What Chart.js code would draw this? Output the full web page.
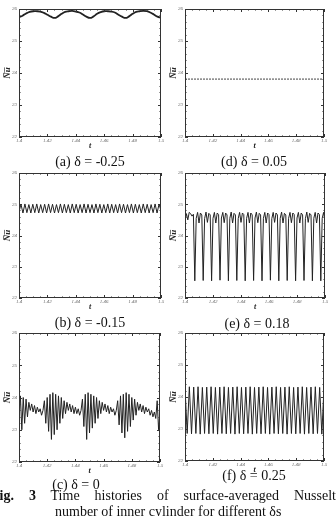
<!DOCTYPE html>
<html>
<head>
<meta charset="utf-8">
<script src="https://cdn.jsdelivr.net/npm/chart.js@4/dist/chart.umd.min.js"></script>
<style>
  body { margin: 0; width: 336px; height: 516px; overflow: hidden; background: #fff; position: relative; font-family: "Liberation Serif", serif; color: #111; }
  .panel { position: absolute; }
  .cap { position: absolute; font-size: 14px; line-height: 16px; white-space: nowrap; transform: translateX(-50%); }
  .fig { position: absolute; font-size: 14px; line-height: 16px; white-space: nowrap; }
  .fig1 { left: -9px; width: 345px; text-align: justify; text-align-last: justify; }
</style>
</head>
<body>
<div class="panel" style="left:0;top:3px"><canvas id="pa" width="167" height="151"></canvas></div>
<div class="panel" style="left:166px;top:3px"><canvas id="pd" width="164" height="151"></canvas></div>
<div class="panel" style="left:0;top:167px"><canvas id="pb" width="167" height="148"></canvas></div>
<div class="panel" style="left:166px;top:167px"><canvas id="pe" width="165" height="148"></canvas></div>
<div class="panel" style="left:0;top:327px"><canvas id="pc" width="166" height="152"></canvas></div>
<div class="panel" style="left:166px;top:327px"><canvas id="pf" width="164" height="151"></canvas></div>

<div class="cap" style="left:90px;top:154px">(a) δ = -0.25</div>
<div class="cap" style="left:254px;top:154px">(d) δ = 0.05</div>
<div class="cap" style="left:90px;top:315px">(b) δ = -0.15</div>
<div class="cap" style="left:257px;top:316px">(e) δ = 0.18</div>
<div class="cap" style="left:76px;top:477px">(c) δ = 0</div>
<div class="cap" style="left:254px;top:468px">(f) δ = 0.25</div>
<div class="fig fig1" style="top:488px"><b>Fig.</b> <b>3</b> Time histories of surface-averaged Nusselt</div>
<div class="fig" style="left:55px;top:504px">number of inner cylinder for different δs</div>

<script>
// time window and axis ticks shared by all six panels
const tMin = 1.4, tMax = 1.5;
const xTicks = [1.4, 1.42, 1.44, 1.46, 1.48, 1.5];
const yTicks = [22, 23, 24, 25, 26];

// (a) delta = -0.25
const nuA = [
  25.74, 25.79, 25.86, 25.91, 25.93, 25.93, 25.92, 25.88, 25.82, 25.76,
  25.72, 25.77, 25.85, 25.91, 25.93, 25.94, 25.92, 25.89, 25.83, 25.76,
  25.72, 25.77, 25.85, 25.90, 25.93, 25.93, 25.92, 25.89, 25.82, 25.76,
  25.72, 25.77, 25.85, 25.91, 25.93, 25.94, 25.93, 25.89, 25.83, 25.76,
  25.73
];

// (b) delta = -0.15
const nuB = [
  24.76, 25.00, 24.72, 25.01, 24.73, 24.99, 24.72, 25.00, 24.73, 25.01,
  24.72, 24.99, 24.73, 25.00, 24.72, 25.01, 24.73, 25.00, 24.72, 24.99,
  24.73, 25.01, 24.72, 25.00, 24.73, 24.99, 24.72, 25.01, 24.73, 25.00,
  24.72, 24.99, 24.73, 25.01, 24.72, 25.00, 24.73, 24.99, 24.72, 25.01,
  24.73, 25.00, 24.72, 24.99, 24.73, 25.01, 24.72, 25.00, 24.73, 24.99,
  24.72, 25.01, 24.73, 25.00, 24.72, 24.99, 24.73, 25.01, 24.72, 25.00,
  24.73, 24.99, 24.72, 25.01, 24.73, 25.00, 24.72, 24.99, 24.73, 25.01,
  24.72, 25.00, 24.80
];

// (c) delta = 0
const nuC = [
  23.30, 24.05, 23.00, 24.00, 23.20, 23.95, 23.40, 23.85,
  23.60, 23.80, 23.55, 23.75, 23.50, 23.70, 23.55, 23.65, 23.45, 23.60,
  23.90, 23.20, 24.00, 22.95, 24.10, 22.70, 24.15, 22.85, 24.10, 23.00,
  24.05, 23.20, 24.00, 23.35, 23.90, 23.50, 23.85,
  23.60, 23.80, 23.55, 23.75, 23.50, 23.70, 23.50, 23.65, 23.45, 23.60,
  23.95, 23.10, 24.10, 22.70, 24.15, 22.90, 24.10, 23.05, 24.05, 23.20,
  24.00, 23.35, 23.90, 23.50, 23.85,
  23.60, 23.80, 23.55, 23.75, 23.50, 23.70, 23.55, 23.65, 23.45, 23.60,
  23.90, 23.15, 24.05, 22.90, 24.10, 22.75, 24.15, 22.95, 24.10, 23.10,
  24.00, 23.30, 23.95, 23.45, 23.85,
  23.60, 23.80, 23.55, 23.75, 23.50, 23.70, 23.55, 23.65, 23.45, 23.60,
  23.40, 23.55, 23.35, 23.90, 23.00, 23.60
];

// (d) delta = 0.05 (steady)
const nuD = [23.81, 23.81];

// (e) delta = 0.18
const nuE = [
  24.45, 24.70, 24.50, 24.74, 24.70, 24.62, 24.68,
  22.55, 24.55, 24.74, 24.40, 24.72, 24.66,
  22.56, 24.54, 24.75, 24.42, 24.71, 24.66,
  22.55, 24.55, 24.74, 24.40, 24.72, 24.67,
  22.57, 24.56, 24.74, 24.41, 24.72, 24.66,
  22.55, 24.55, 24.75, 24.40, 24.71, 24.66,
  22.56, 24.54, 24.74, 24.42, 24.72, 24.67,
  22.55, 24.55, 24.74, 24.40, 24.72, 24.66,
  22.56, 24.56, 24.75, 24.41, 24.71, 24.66,
  22.55, 24.55, 24.74, 24.40, 24.72, 24.67,
  22.57, 24.54, 24.74, 24.42, 24.72, 24.66,
  22.55, 24.55, 24.75, 24.40, 24.71, 24.66,
  22.56, 24.55, 24.74, 24.41, 24.72, 24.67,
  22.55, 24.56, 24.74, 24.40, 24.72, 24.66,
  22.56, 24.54, 24.75, 24.42, 24.71, 24.66,
  22.55, 24.55, 24.74, 24.40, 24.72, 24.67,
  22.55, 24.55, 24.74, 24.45
];

// (f) delta = 0.25
const nuF = [
  24.30, 22.86, 24.32, 22.85, 24.31, 22.86, 24.32, 22.84, 24.30, 22.86,
  24.31, 22.85, 24.32, 22.86, 24.30, 22.84, 24.31, 22.86, 24.32, 22.85,
  24.30, 22.86, 24.31, 22.84, 24.32, 22.86, 24.30, 22.85, 24.31, 22.86,
  24.32, 22.84, 24.30, 22.86, 24.31, 22.85, 24.32, 22.86, 24.30, 22.84,
  24.31, 22.86, 24.32, 22.85, 24.30, 22.86, 24.31, 22.84, 24.32, 22.86,
  24.30, 22.85, 24.31, 22.86, 24.32, 22.84, 24.30, 22.86, 24.31, 22.85,
  24.32, 22.86, 24.30, 22.84, 24.31
];

// samples are evenly spaced over the shown time window
function sampleTimes(n) {
  return Array.from({ length: n }, (_, i) => tMin + (tMax - tMin) * i / (n - 1));
}

const serif = "Liberation Serif";

// boxed frame with inward major/minor ticks on all four sides
const frameTicks = {
  id: "frameTicks",
  afterDatasetsDraw(chart) {
    const { ctx, chartArea: a, scales: { x, y } } = chart;
    ctx.save();
    ctx.strokeStyle = "#333";
    ctx.lineWidth = 1;
    ctx.strokeRect(a.left + 0.5, a.top + 0.5, a.right - a.left - 1, a.bottom - a.top - 1);
    ctx.beginPath();
    const xMark = (v, len) => {
      const px = Math.round(x.getPixelForValue(v)) + 0.5;
      ctx.moveTo(px, a.bottom); ctx.lineTo(px, a.bottom - len);
      ctx.moveTo(px, a.top); ctx.lineTo(px, a.top + len);
    };
    const yMark = (v, len) => {
      const py = Math.round(y.getPixelForValue(v)) + 0.5;
      ctx.moveTo(a.left, py); ctx.lineTo(a.left + len, py);
      ctx.moveTo(a.right, py); ctx.lineTo(a.right - len, py);
    };
    xTicks.forEach((v, i) => {
      xMark(v, 3);
      if (i < xTicks.length - 1) {
        const step = (xTicks[i + 1] - v) / 4;
        for (let k = 1; k < 4; k++) xMark(v + k * step, 1.5);
      }
    });
    yTicks.forEach((v, i) => {
      yMark(v, 3);
      if (i < yTicks.length - 1) {
        const step = (yTicks[i + 1] - v) / 5;
        for (let k = 1; k < 5; k++) yMark(v + k * step, 1.5);
      }
    });
    ctx.stroke();
    ctx.restore();
  }
};

function makePanel(id, nu, line) {
  const t = sampleTimes(nu.length);
  new Chart(document.getElementById(id), {
    type: "line",
    data: {
      datasets: [{
        data: nu.map((v, i) => ({ x: t[i], y: v })),
        borderColor: line.color || "#222",
        borderWidth: line.width || 1,
        borderDash: line.dash || [],
        tension: line.tension || 0,
        pointRadius: 0,
        fill: false
      }]
    },
    options: {
      responsive: false,
      animation: false,
      events: [],
      layout: { padding: { top: 6, right: 6, left: 0, bottom: 3 } },
      plugins: { legend: { display: false }, tooltip: { enabled: false } },
      scales: {
        x: {
          type: "linear",
          min: tMin,
          max: tMax,
          afterBuildTicks: s => { s.ticks = xTicks.map(v => ({ value: v })); },
          afterFit: s => { s.height = 14; },
          grid: { display: false, drawTicks: false, tickLength: 0 },
          border: { display: false },
          ticks: {
            autoSkip: false,
            maxRotation: 0,
            padding: 1,
            color: "#666",
            font: { family: serif, size: 5, style: "italic" },
            callback: v => String(+v.toFixed(2))
          },
          title: {
            display: true,
            text: "t",
            color: "#222",
            padding: 0,
            font: { family: serif, size: 8, style: "italic", weight: "bold" }
          }
        },
        y: {
          min: 22,
          max: 26,
          afterBuildTicks: s => { s.ticks = yTicks.map(v => ({ value: v })); },
          afterFit: s => { s.width = 19; },
          grid: { display: false, drawTicks: false, tickLength: 0 },
          border: { display: false },
          ticks: {
            padding: 2,
            color: "#666",
            font: { family: serif, size: 5, style: "italic" }
          },
          title: {
            display: true,
            text: "N\u0305u\u0305",
            color: "#222",
            padding: { top: 2, bottom: 0 },
            font: { family: serif, size: 9, style: "italic", weight: "bold" }
          }
        }
      }
    },
    plugins: [frameTicks]
  });
}

makePanel("pa", nuA, { width: 1.8, tension: 0.4 });
makePanel("pd", nuD, { width: 1, dash: [2, 1], color: "#444" });
makePanel("pb", nuB, { width: 1 });
makePanel("pe", nuE, { width: 1 });
makePanel("pc", nuC, { width: 1 });
makePanel("pf", nuF, { width: 1 });
</script>
</body>
</html>
